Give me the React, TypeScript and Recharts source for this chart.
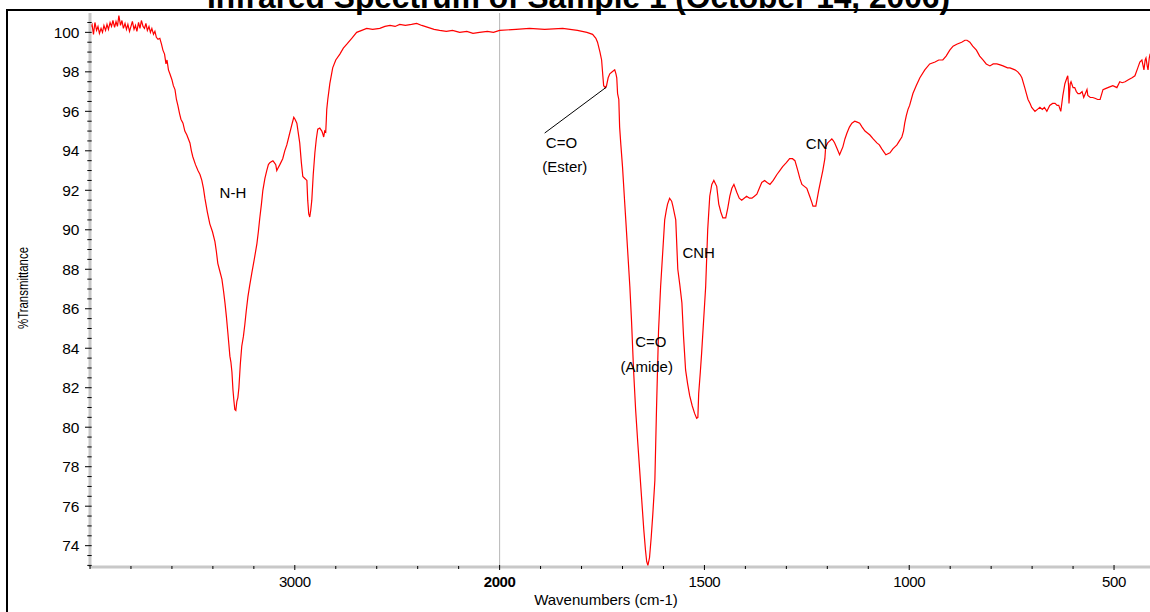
import { LineChart, Line, XAxis, YAxis, ReferenceLine, ReferenceDot } from 'recharts';

// spectrum, cm-1 vs %T
const wavenumbers = [
  4000, 3990, 3983, 3976, 3968, 3961, 3954, 3946, 3939, 3932, 3924, 3917, 3910, 3902, 3895, 3888,
  3880, 3873, 3866, 3859, 3851, 3844, 3837, 3829, 3822, 3815, 3807, 3800, 3793, 3785, 3778, 3771,
  3763, 3756, 3749, 3741, 3734, 3727, 3720, 3712, 3705, 3698, 3690, 3683, 3676, 3668, 3659, 3651,
  3644, 3636, 3629, 3624, 3617, 3610, 3600, 3593, 3585, 3578, 3571, 3563, 3556, 3546, 3537, 3527,
  3512, 3505, 3498, 3485, 3473, 3463, 3454, 3446, 3439, 3427, 3415, 3402, 3390, 3383, 3376, 3366,
  3356, 3348, 3341, 3334, 3327, 3322, 3317, 3312, 3307, 3302, 3297, 3293, 3288, 3283, 3278, 3273,
  3266, 3259, 3251, 3244, 3237, 3229, 3220, 3210, 3198, 3185, 3178, 3171, 3163, 3156, 3146, 3137,
  3129, 3122, 3115, 3107, 3100, 3093, 3088, 3083, 3073, 3059, 3049, 3039, 3027, 3015, 3005, 2999,
  2990, 2976, 2968, 2961, 2951, 2941, 2937, 2932, 2927, 2922, 2917, 2910, 2902, 2895, 2888, 2878,
  2868, 2863, 2859, 2854, 2849, 2846, 2844, 2839, 2834, 2829, 2815, 2800, 2780, 2763, 2746, 2722,
  2698, 2673, 2649, 2620, 2585, 2560, 2535, 2510, 2488, 2460, 2430, 2405, 2380, 2350, 2320, 2293,
  2260, 2230, 2195, 2160, 2130, 2098, 2060, 2030, 2000,
  1960, 1927, 1890, 1846, 1810, 1787, 1773, 1765, 1761, 1755, 1751, 1748, 1746, 1742, 1739, 1735,
  1731, 1725, 1719, 1716, 1714, 1712, 1709, 1707, 1704, 1700, 1695, 1692, 1687, 1682, 1678, 1673,
  1668, 1663, 1658, 1653, 1648, 1644, 1641, 1638, 1634, 1630, 1626, 1621, 1617, 1612, 1607, 1602,
  1597, 1593, 1590, 1585, 1580, 1577, 1570, 1565, 1560, 1555, 1551, 1546, 1541, 1536, 1530, 1524,
  1519, 1516, 1514, 1510, 1507, 1502, 1497, 1492, 1487, 1482, 1477, 1470, 1465, 1460, 1455, 1448,
  1443, 1438, 1433, 1428, 1421, 1415, 1409, 1403, 1397, 1390, 1384, 1378, 1372, 1366, 1360, 1353,
  1347, 1340, 1332, 1323, 1316, 1309, 1300, 1292, 1285, 1279, 1272, 1267, 1262, 1256, 1250, 1243,
  1238, 1235, 1230, 1228, 1221, 1216, 1211, 1206, 1204, 1199, 1194, 1189, 1185, 1182, 1176, 1170,
  1166, 1162, 1157, 1152, 1146, 1140, 1133, 1127, 1121, 1115, 1108, 1102, 1096, 1088, 1079, 1073,
  1067, 1062, 1057, 1052, 1047, 1040, 1035, 1030, 1024, 1018, 1014, 1011, 1007, 1003, 999, 991,
  983, 974, 962, 950, 937, 928, 918, 910, 901, 893, 884, 872, 864, 859, 852, 845,
  836, 828, 820, 812, 803, 795, 786, 778, 771, 760, 754, 742, 735, 729, 725, 718,
  714, 710, 705, 701, 693, 687, 681, 675, 670, 664, 657, 650, 644, 639, 635, 630,
  625, 620, 615, 613, 611, 610, 607, 605, 600, 596, 592, 588, 583, 578, 574, 570,
  566, 564, 558, 552, 545, 540, 534, 527, 521, 515, 509, 503, 498, 493, 486, 480,
  473, 465, 456, 449, 442, 437, 432, 429, 427, 424, 422, 419, 417, 414, 412, 405, 400,
];

const transmittance = [
  100.2, 100.4, 99.9, 100.5, 100.1, 100.3, 99.95, 100.2, 100.0, 100.35, 100.1, 100.4, 100.15, 100.5, 100.3, 100.6,
  100.25, 100.55, 100.3, 100.85, 100.35, 100.6, 100.2, 100.45, 100.15, 100.4, 100.05, 100.3, 100.55, 100.15, 100.35, 100.05,
  100.5, 100.2, 100.6, 100.3, 100.2, 100.45, 100.1, 100.3, 100.0, 100.2, 99.9, 100.05, 99.75, 99.65, 99.7, 99.4,
  99.1, 98.9, 98.4, 98.6, 98.1, 97.9, 97.6, 97.3, 97.1, 96.6, 96.3, 95.9, 95.6, 95.4, 95.0, 94.8,
  94.4, 94.0, 93.7, 93.3, 93.0, 92.8, 92.5, 92.1, 91.6, 90.9, 90.3, 89.9, 89.4, 88.9, 88.3, 87.9,
  87.5, 86.9, 86.3, 85.6, 84.8, 84.2, 83.6, 83.3, 82.8, 81.9, 81.3, 80.9, 80.85, 81.3, 81.5, 82.0,
  83.2, 84.1, 84.6, 85.2, 85.9, 86.6, 87.2, 87.8, 88.5, 89.3, 89.9, 90.6, 91.3, 92.0, 92.6, 93.0,
  93.3, 93.4, 93.45, 93.5, 93.4, 93.3, 93.0, 93.1, 93.3, 93.6, 94.0, 94.3, 94.8, 95.3, 95.7, 95.6,
  95.4, 94.4, 93.4, 92.7, 92.6, 92.5, 91.5, 90.8, 90.65, 91.0, 91.5, 92.8, 93.9, 94.6, 95.1, 95.15,
  95.0, 94.85, 94.7, 95.0, 94.95, 95.6, 96.1, 96.6, 97.0, 97.4, 98.2, 98.6, 98.9, 99.2, 99.4, 99.7,
  100.0, 100.1, 100.2, 100.15, 100.2, 100.3, 100.35, 100.3, 100.4, 100.35, 100.4, 100.45, 100.35, 100.25, 100.15, 100.1,
  100.05, 100.1, 100.0, 100.05, 99.95, 100.0, 100.05, 100.0, 100.1,
  100.15, 100.2, 100.15, 100.2, 100.1, 100.0, 99.9, 99.7, 99.5, 99.0, 98.6, 97.8, 97.3, 97.2, 97.3, 97.7,
  97.9, 98.0, 98.1, 97.9, 97.7, 96.9, 96.6, 95.2, 94.3, 93.2, 91.5, 90.5, 88.8, 87.1, 85.4, 82.9,
  80.9, 79.3, 77.8, 76.3, 74.8, 73.8, 73.2, 73.0, 73.4, 74.4, 75.6, 77.3, 80.9, 84.9, 87.1, 88.8,
  90.5, 91.0, 91.3, 91.6, 91.45, 91.2, 90.5, 88.0, 87.2, 86.3, 84.6, 82.9, 82.2, 81.6, 81.1, 80.7,
  80.45, 80.5, 81.7, 82.8, 83.7, 85.4, 87.1, 90.0, 91.7, 92.3, 92.5, 92.2, 91.3, 90.9, 90.6, 90.6,
  91.1, 91.7, 92.1, 92.3, 91.9, 91.6, 91.5, 91.6, 91.7, 91.6, 91.6, 91.7, 91.8, 92.1, 92.4, 92.5,
  92.4, 92.3, 92.5, 92.8, 93.0, 93.2, 93.4, 93.6, 93.6, 93.5, 93.0, 92.6, 92.3, 92.2, 92.1, 91.7,
  91.4, 91.2, 91.2, 91.2, 92.0, 92.5, 93.0, 93.6, 94.2, 94.4, 94.5, 94.6, 94.5, 94.4, 94.1, 93.8,
  94.0, 94.2, 94.6, 94.9, 95.2, 95.4, 95.5, 95.45, 95.4, 95.2, 95.0, 94.9, 94.8, 94.6, 94.4, 94.3,
  94.1, 93.95, 93.8, 93.85, 93.9, 94.1, 94.2, 94.3, 94.5, 94.7, 95.0, 95.4, 95.8, 96.1, 96.3, 96.9,
  97.3, 97.7, 98.1, 98.4, 98.5, 98.6, 98.6, 98.8, 99.1, 99.3, 99.4, 99.5, 99.6, 99.6, 99.5, 99.3,
  99.1, 98.8, 98.6, 98.4, 98.3, 98.4, 98.4, 98.35, 98.3, 98.2, 98.2, 98.1, 98.0, 97.85, 97.7, 97.2,
  96.9, 96.6, 96.4, 96.2, 96.0, 96.1, 96.2, 96.1, 96.2, 96.0, 96.3, 96.4, 96.4, 96.3, 96.3, 96.0,
  96.8, 97.4, 97.7, 97.8, 97.3, 96.4, 97.4, 97.5, 97.2, 97.2, 97.0, 96.9, 96.9, 97.0, 96.7, 96.9,
  97.1, 96.8, 96.7, 96.7, 96.65, 96.6, 96.6, 97.1, 97.15, 97.2, 97.25, 97.3, 97.25, 97.2, 97.5, 97.45,
  97.5, 97.6, 97.7, 97.8, 98.2, 98.5, 98.6, 98.3, 98.1, 98.6, 98.7, 98.3, 98.1, 98.7, 98.9, 99.0, 99.1,
];

const xTickLabels = [3000, 2000, 1500, 1000, 500];
const yTickLabels = [74, 76, 78, 80, 82, 84, 86, 88, 90, 92, 94, 96, 98, 100];

const annotations = [
  { text: 'N-H', wn: 3302, t: 91.86 },
  { text: 'C=O', wn: 1849, t: 94.39 },
  { text: '(Ester)', wn: 1841, t: 93.18 },
  { text: 'C=O', wn: 1631, t: 84.33 },
  { text: '(Amide)', wn: 1641, t: 83.06 },
  { text: 'CNH', wn: 1514, t: 88.83 },
  { text: 'CN', wn: 1226, t: 94.38 },
];
const esterLeader = [
  { wn: 1890, t: 94.9 },
  { wn: 1739, t: 97.23 },
];

// the x scale is compressed 2x above 2000 cm-1 (axis break)
const toPos = (wn: number) => (wn > 2000 ? 2000 + (wn - 2000) / 2 : wn);
const toWn = (pos: number) => (pos > 2000 ? 2000 + (pos - 2000) * 2 : pos);

const data = wavenumbers.map((wn, i) => ({ pos: toPos(wn), t: transmittance[i] }));

const xTicks = Array.from({ length: 27 }, (_, i) => 400 + i * 100);
const yTicks = Array.from({ length: 56 }, (_, i) => 73 + i * 0.5);

const FONT = '"Liberation Sans", Arial, sans-serif';

const XTick = (props: any) => {
  const { x, y, payload } = props;
  const wn = Math.round(toWn(payload.value));
  const major = xTickLabels.includes(wn);
  return (
    <g>
      <line x1={x} x2={x} y1={y - (major ? 2 : 1)} y2={y + (major ? 3 : 2)} stroke="#000" strokeWidth={1} />
      {major && (
        <text
          x={x}
          y={y + 20}
          textAnchor="middle"
          fontSize={15}
          fontFamily={FONT}
          fontWeight={wn === 2000 ? 700 : 400}
          letterSpacing={-0.4}
          fill="#000"
        >
          {wn}
        </text>
      )}
    </g>
  );
};

const YTick = (props: any) => {
  const { x, y, payload } = props;
  const v = payload.value;
  const major = yTickLabels.includes(v);
  return (
    <g>
      <line x1={x - (major ? 5 : 2.7)} x2={x + 1.7} y1={y} y2={y} stroke="#000" strokeWidth={1} />
      {major && (
        <text x={x - 10.5} y={y + 5.5} textAnchor="end" fontSize={15.5} fontFamily={FONT} fill="#000">
          {v}
        </text>
      )}
    </g>
  );
};

export default function App() {
  return (
    <div
      style={{
        position: 'absolute',
        left: 0,
        top: 0,
        width: 1150,
        height: 612,
        overflow: 'hidden',
        background: '#fff',
        fontFamily: FONT,
      }}
    >
      <div
        style={{
          position: 'absolute',
          left: 6,
          top: 9,
          width: 1300,
          height: 800,
          border: '2px solid #000',
          boxSizing: 'border-box',
        }}
      />
      <div style={{ position: 'absolute', left: 0, top: 0 }}>
        <LineChart width={1170} height={612} data={data} margin={{ top: 13, right: 15, left: 0, bottom: 0 }}>
          <XAxis
            dataKey="pos"
            type="number"
            domain={[400, 3000]}
            reversed
            ticks={xTicks}
            interval={0}
            height={45}
            tickSize={0}
            tickMargin={0}
            tickLine={false}
            tick={(p: any) => <XTick {...p} />}
            axisLine={{ stroke: '#c8c8c8', strokeWidth: 3 }}
            allowDataOverflow
          />
          <YAxis
            type="number"
            domain={[72.92, 100.98]}
            ticks={yTicks}
            interval={0}
            width={90}
            tickSize={0}
            tickMargin={0}
            tickLine={false}
            tick={(p: any) => <YTick {...p} />}
            axisLine={{ stroke: '#c8c8c8', strokeWidth: 3 }}
            allowDataOverflow
          />
          <ReferenceLine x={2000} stroke="#b8b8b8" strokeWidth={1} />
          <Line
            dataKey="t"
            type="linear"
            stroke="#ff0000"
            strokeWidth={1.2}
            dot={false}
            isAnimationActive={false}
          />
          <ReferenceLine
            segment={esterLeader.map((p) => ({ x: toPos(p.wn), y: p.t }))}
            stroke="#000"
            strokeWidth={1}
          />
          {annotations.map((a, i) => (
            <ReferenceDot
              key={i}
              x={toPos(a.wn)}
              y={a.t}
              r={1}
              fill="none"
              stroke="none"
              label={{ value: a.text, position: 'center', fontSize: 15, fill: '#000', fontFamily: FONT }}
            />
          ))}
        </LineChart>
      </div>
      <svg
        width={1150}
        height={612}
        style={{ position: 'absolute', left: 0, top: 0, pointerEvents: 'none' }}
      >
        <text
          x={578.5}
          y={7.5}
          textAnchor="middle"
          fontSize={32}
          fontWeight={700}
          fontFamily={FONT}
          textLength={743}
          lengthAdjust="spacingAndGlyphs"
          fill="#000"
        >
          Infrared Spectrum of Sample 1 (October 14, 2006)
        </text>
        <text
          transform="translate(28,288) rotate(-90)"
          textAnchor="middle"
          fontSize={15}
          fontFamily={FONT}
          textLength={82}
          lengthAdjust="spacingAndGlyphs"
          fill="#000"
        >
          %Transmittance
        </text>
        <text x={606} y={605} textAnchor="middle" fontSize={15} fontFamily={FONT} fill="#000">
          Wavenumbers (cm-1)
        </text>
      </svg>
    </div>
  );
}
